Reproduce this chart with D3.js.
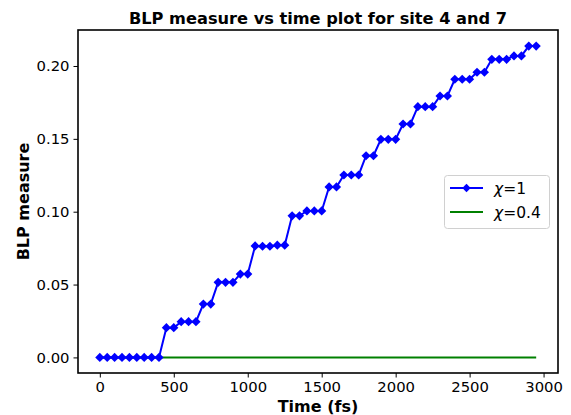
<!DOCTYPE html>
<html><head><meta charset="utf-8">
<script src="https://cdn.jsdelivr.net/npm/d3@7"></script>
<style>html,body{margin:0;padding:0;background:#fff;} svg{display:block;font-family:"DejaVu Sans",sans-serif;}</style>
</head><body><svg id="c" width="571" height="415"></svg>
<script>
const times = d3.range(0, 3000, 50);
const chi1 = [0,0,0,0,0,0,0,0,0,
  0.0204,0.0204,0.0245,0.0245,0.0245,0.0366,0.0366,0.0515,0.0515,0.0515,
  0.0572,0.0572,0.0765,0.0763,0.0763,0.0770,0.0770,0.0972,0.0972,0.1005,
  0.1005,0.1005,0.1170,0.1170,0.1252,0.1252,0.1252,0.1384,0.1384,0.1497,
  0.1497,0.1497,0.1602,0.1602,0.1721,0.1721,0.1721,0.1794,0.1794,0.1909,
  0.1909,0.1909,0.1957,0.1957,0.2046,0.2046,0.2046,0.2069,0.2069,0.2137,0.2137];
const chi04 = times.map(() => 0);
const xTicks = [0,500,1000,1500,2000,2500,3000];
const yTicks = [0.00,0.05,0.10,0.15,0.20];
const seriesLabels = ["1", "0.4"];

const svg = d3.select("#c");
const L=78, R=558, T=30, B=373;
const x = d3.scaleLinear().domain([-147.5, 3097.5]).range([L, R]);
const y = d3.scaleLinear().domain([-0.0107, 0.2247]).range([B, T]);

svg.append("g").attr("transform",`translate(0,${B})`)
  .call(d3.axisBottom(x).tickValues(xTicks).tickFormat(d3.format("d")).tickSize(4.5).tickPadding(4))
  .call(g=>{g.select(".domain").remove(); g.selectAll("text").attr("font-size",14.8).attr("fill","#000").attr("font-family","DejaVu Sans");
    g.selectAll("line").attr("stroke","#000").attr("stroke-width",1);});
svg.append("g").attr("transform",`translate(${L},0)`)
  .call(d3.axisLeft(y).tickValues(yTicks).tickFormat(d3.format(".2f")).tickSize(4.5).tickPadding(4))
  .call(g=>{g.select(".domain").remove(); g.selectAll("text").attr("font-size",14.8).attr("fill","#000").attr("font-family","DejaVu Sans");
    g.selectAll("line").attr("stroke","#000").attr("stroke-width",1);});

const line = d3.line().x((d,i)=>x(times[i])).y(d=>y(d));
svg.append("path").datum(chi04).attr("d",line).attr("fill","none").attr("stroke","#008000").attr("stroke-width",2);
svg.append("path").datum(chi1).attr("d",line).attr("fill","none").attr("stroke","#0000ff").attr("stroke-width",2);
const dia = r => `M0,${-r}L${r},0L0,${r}L${-r},0Z`;
svg.append("g").selectAll("path").data(chi1).join("path")
  .attr("d",dia(4.6)).attr("transform",(d,i)=>`translate(${x(times[i])},${y(d)})`).attr("fill","#0000ff");

svg.append("rect").attr("x",L).attr("y",T).attr("width",R-L).attr("height",B-T)
  .attr("fill","none").attr("stroke","#000").attr("stroke-width",1.6);

svg.append("text").attr("x",(L+R)/2).attr("y",24).attr("text-anchor","middle")
  .attr("font-size",16.2).attr("font-weight","bold").text("BLP measure vs time plot for site 4 and 7");
svg.append("text").attr("x",(L+R)/2).attr("y",412).attr("text-anchor","middle")
  .attr("font-size",16).attr("font-weight","bold").text("Time (fs)");
svg.append("text").attr("transform",`translate(29,${(T+B)/2}) rotate(-90)`).attr("text-anchor","middle")
  .attr("font-size",16).attr("font-weight","bold").text("BLP measure");

// legend
const lg = svg.append("g");
lg.append("rect").attr("x",444.5).attr("y",175.5).attr("width",105).attr("height",53).attr("rx",3)
  .attr("fill","#fff").attr("fill-opacity",0.8).attr("stroke","#d0d0d0");
const cols = ["#0000ff","#008000"];
seriesLabels.forEach((s,i)=>{
  const yy = 188 + i*24;
  lg.append("line").attr("x1",450).attr("x2",483).attr("y1",yy).attr("y2",yy).attr("stroke",cols[i]).attr("stroke-width",2);
  if(i===0) lg.append("path").attr("d",dia(4.2)).attr("transform",`translate(466.5,${yy})`).attr("fill","#0000ff");
  const t = lg.append("text").attr("x",494).attr("y",yy+5.5).attr("font-size",15.5);
  t.append("tspan").attr("font-style","italic").text("χ");
  t.append("tspan").text("=" + s);
});
</script></body></html>
